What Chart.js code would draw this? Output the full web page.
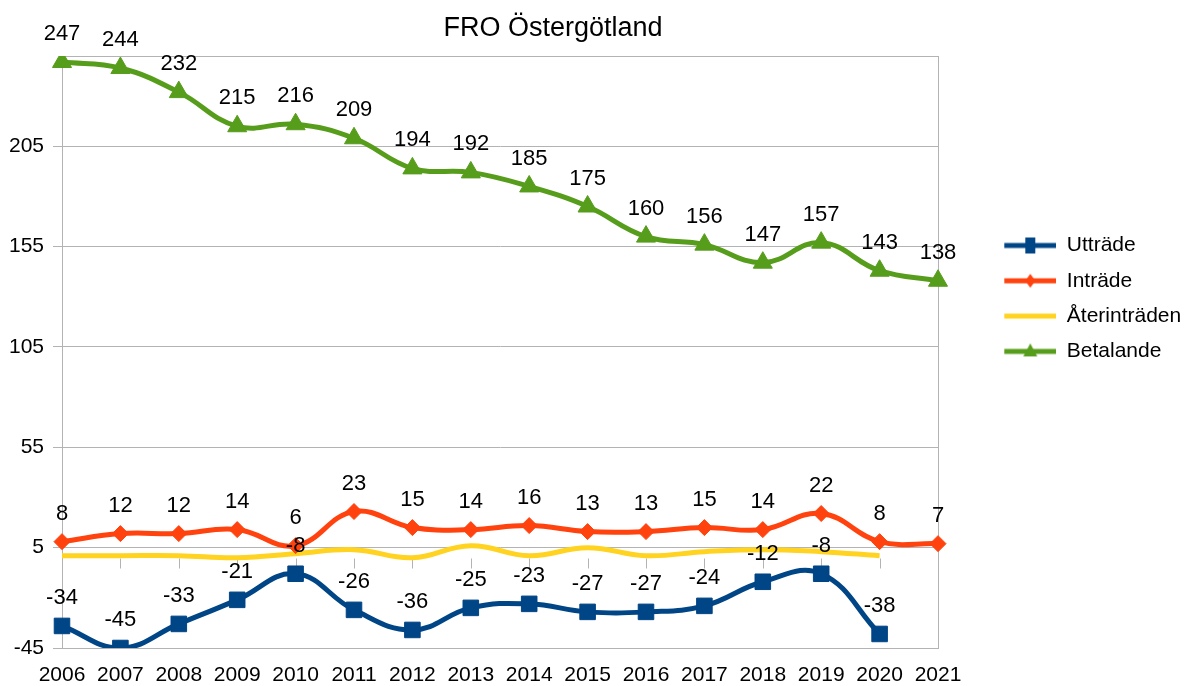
<!DOCTYPE html>
<html>
<head>
<meta charset="utf-8">
<script src="https://cdn.jsdelivr.net/npm/chart.js@4.4.1/dist/chart.umd.min.js"></script>
<style>
  html, body { margin: 0; padding: 0; background: #ffffff; }
  #wrap { width: 1191px; height: 686px; position: relative; }
</style>
</head>
<body>
<div id="wrap"><canvas id="c"></canvas></div>
<script>
const title = 'FRO Östergötland';
const years = ['2006','2007','2008','2009','2010','2011','2012','2013','2014','2015','2016','2017','2018','2019','2020','2021'];
const uttrade = [-34, -45, -33, -21, -8, -26, -36, -25, -23, -27, -27, -24, -12, -8, -38, null];
const intrade = [8, 12, 12, 14, 6, 23, 15, 14, 16, 13, 13, 15, 14, 22, 8, 7];
const aterintraden = [1, 1, 1, 0, 2, 4, 0, 6, 1, 5, 1, 3, 4, 3, 1, null];
const betalande = [247, 244, 232, 215, 216, 209, 194, 192, 185, 175, 160, 156, 147, 157, 143, 138];
const yTicks = [-45, 5, 55, 105, 155, 205];
const seriesNames = ['Utträde', 'Inträde', 'Återinträden', 'Betalande'];
const seriesColors = ['#004586', '#ff420e', '#ffd320', '#579d1c'];

const FONT = '"Liberation Sans", Arial, sans-serif';
const GRID = '#b3b3b3';
const LEGEND_BOX = 104;

function legendSymbol(color, shape) {
  const c = document.createElement('canvas');
  c.width = LEGEND_BOX; c.height = 24;
  const g = c.getContext('2d');
  const x0 = LEGEND_BOX - 52, cx = LEGEND_BOX - 26, cy = 12;
  g.strokeStyle = color; g.fillStyle = color; g.lineWidth = 5;
  g.beginPath(); g.moveTo(x0, cy); g.lineTo(LEGEND_BOX, cy); g.stroke();
  g.beginPath();
  if (shape === 'rect') {
    g.rect(cx - 5, cy - 8, 10, 16);
  } else if (shape === 'rectRot') {
    g.moveTo(cx, cy - 7); g.lineTo(cx + 5, cy); g.lineTo(cx, cy + 7); g.lineTo(cx - 5, cy);
  } else if (shape === 'triangle') {
    g.moveTo(cx, cy - 8); g.lineTo(cx + 7, cy + 5); g.lineTo(cx - 7, cy + 5);
  }
  g.closePath();
  if (shape) g.fill();
  return c;
}
const shapes = ['rect', 'rectRot', null, 'triangle'];
const legendSymbols = seriesColors.map((col, i) => legendSymbol(col, shapes[i]));

const valueLabels = {
  id: 'valueLabels',
  afterDatasetsDraw(chart) {
    const ctx = chart.ctx;
    ctx.save();
    ctx.font = '22px ' + FONT;
    ctx.fillStyle = '#000';
    ctx.textAlign = 'center';
    ctx.textBaseline = 'middle';
    chart.data.datasets.forEach((ds, i) => {
      if (!ds.showLabels) return;
      const meta = chart.getDatasetMeta(i);
      meta.data.forEach((pt, j) => {
        const v = ds.data[j];
        if (v === null || v === undefined) return;
        ctx.fillText(String(v), pt.x, pt.y - 28);
      });
    });
    ctx.restore();
  }
};

const frame = {
  id: 'frame',
  beforeDatasetsDraw(chart) {
    const { ctx, chartArea: a, scales } = chart;
    ctx.save();
    ctx.strokeStyle = GRID;
    ctx.lineWidth = 1;
    ctx.strokeRect(a.left + 0.5, a.top + 0.5, a.right - a.left, a.bottom - a.top);
    const y0 = Math.round(scales.y.getPixelForValue(0)) + 0.5;
    ctx.beginPath();
    scales.x.ticks.forEach((t, i) => {
      const x = Math.round(scales.x.getPixelForTick(i)) + 0.5;
      ctx.moveTo(x, y0); ctx.lineTo(x, y0 + 10);
    });
    ctx.stroke();
    ctx.restore();
  },
  afterLayout(chart) {
    const t = chart.titleBlock;
    if (t) { const center = 553; t.left = 2 * center - t.right; }
  }
};

new Chart(document.getElementById('c'), {
  type: 'line',
  data: {
    labels: years,
    datasets: [
      { label: seriesNames[0], data: uttrade, borderColor: seriesColors[0], backgroundColor: seriesColors[0],
        borderWidth: 5, pointStyle: 'rect', pointRadius: 11, pointBorderWidth: 1, tension: 0.42, showLabels: true },
      { label: seriesNames[1], data: intrade, borderColor: seriesColors[1], backgroundColor: seriesColors[1],
        borderWidth: 5, pointStyle: 'rectRot', pointRadius: 8, pointBorderWidth: 1, tension: 0.42, showLabels: true },
      { label: seriesNames[2], data: aterintraden, borderColor: seriesColors[2], backgroundColor: seriesColors[2],
        borderWidth: 5, pointRadius: 0, tension: 0.42, showLabels: false },
      { label: seriesNames[3], data: betalande, borderColor: seriesColors[3], backgroundColor: seriesColors[3],
        borderWidth: 5, pointStyle: 'triangle', pointRadius: 11, pointBorderWidth: 1, tension: 0.42, showLabels: true }
    ]
  },
  options: {
    responsive: true,
    maintainAspectRatio: false,
    animation: false,
    layout: { padding: { left: 9, right: 0, top: 0, bottom: 0 } },
    plugins: {
      title: {
        display: true, text: title, color: '#000',
        font: { family: FONT, size: 27, weight: 'normal' },
        padding: { top: 12, bottom: 11.6 }
      },
      legend: {
        position: 'right',
        align: 'start',
        maxWidth: 253,
        title: { display: true, text: ' ', font: { size: 1 }, padding: { top: 219.5, bottom: 0 } },
        labels: {
          usePointStyle: true,
          pointStyleWidth: LEGEND_BOX,
          padding: 14.3,
          color: '#000',
          font: { family: FONT, size: 21 },
          generateLabels(chart) {
            return chart.data.datasets.map((ds, i) => ({
              text: ds.label, pointStyle: legendSymbols[i], fillStyle: 'rgba(0,0,0,0)',
              strokeStyle: 'rgba(0,0,0,0)', lineWidth: 0, hidden: false, datasetIndex: i, fontColor: '#000'
            }));
          }
        }
      },
      tooltip: { enabled: false }
    },
    scales: {
      x: {
        grid: { display: false, drawTicks: false },
        border: { display: false },
        ticks: { color: '#000', font: { family: FONT, size: 21, lineHeight: 1.0 }, padding: 17, maxRotation: 0, autoSkip: false },
        afterFit(scale) { scale.height = 38; }
      },
      y: {
        min: -45, max: 250,
        afterBuildTicks(scale) { scale.ticks = yTicks.map(v => ({ value: v })); },
        afterFit(scale) { scale.width = 53; },
        grid: { color: GRID, lineWidth: 1, tickLength: 9, drawTicks: true },
        border: { display: true, color: GRID },
        ticks: { color: '#000', font: { family: FONT, size: 21 }, padding: 9 }
      }
    }
  },
  plugins: [frame, valueLabels]
});
</script>
</body>
</html>
